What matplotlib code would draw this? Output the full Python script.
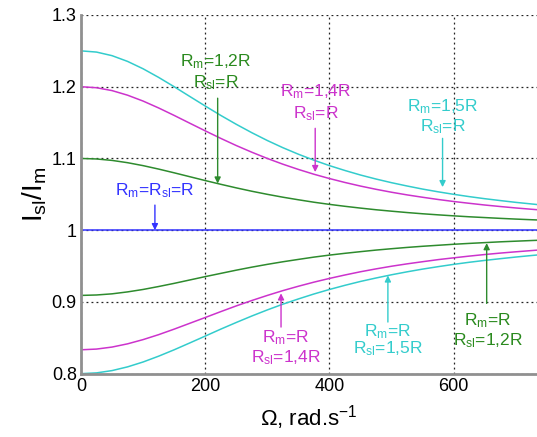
import matplotlib
matplotlib.use("Agg")
import matplotlib.pyplot as plt

plt.rcParams['font.family'] = ['Liberation Sans', 'DejaVu Sans']
plt.rcParams['mathtext.default'] = 'regular'

omega = [0, 25, 50, 75, 100, 125, 150, 175, 200, 225, 250, 275, 300, 325, 350, 375,
         400, 425, 450, 475, 500, 525, 550, 575, 600, 625, 650, 675, 700, 725, 734]

up_cyan = [1.2500, 1.2483, 1.2433, 1.2353, 1.2250, 1.2130, 1.2000, 1.1865, 1.1731,
           1.1600, 1.1476, 1.1359, 1.1250, 1.1150, 1.1059, 1.0976, 1.0900, 1.0832,
           1.0769, 1.0713, 1.0662, 1.0616, 1.0573, 1.0535, 1.0500, 1.0468, 1.0439,
           1.0413, 1.0388, 1.0366, 1.0358]
up_magenta = [1.2000, 1.1986, 1.1946, 1.1882, 1.1800, 1.1704, 1.1600, 1.1492, 1.1385,
              1.1280, 1.1180, 1.1087, 1.1000, 1.0920, 1.0847, 1.0780, 1.0720, 1.0665,
              1.0615, 1.0570, 1.0529, 1.0492, 1.0459, 1.0428, 1.0400, 1.0375, 1.0351,
              1.0330, 1.0310, 1.0292, 1.0286]
up_green = [1.1000, 1.0993, 1.0973, 1.0941, 1.0900, 1.0852, 1.0800, 1.0746, 1.0692,
            1.0640, 1.0590, 1.0543, 1.0500, 1.0460, 1.0424, 1.0390, 1.0360, 1.0333,
            1.0308, 1.0285, 1.0265, 1.0246, 1.0229, 1.0214, 1.0200, 1.0187, 1.0176,
            1.0165, 1.0155, 1.0146, 1.0143]
ref_blue = [1.0] * len(omega)
lo_green = [0.9091, 0.9097, 0.9113, 0.9140, 0.9174, 0.9215, 0.9259, 0.9306, 0.9353,
            0.9398, 0.9443, 0.9485, 0.9524, 0.9560, 0.9593, 0.9625, 0.9653, 0.9678,
            0.9701, 0.9723, 0.9742, 0.9760, 0.9776, 0.9790, 0.9804, 0.9816, 0.9827,
            0.9838, 0.9847, 0.9856, 0.9859]
lo_magenta = [0.8333, 0.8343, 0.8371, 0.8416, 0.8475, 0.8544, 0.8621, 0.8702, 0.8783,
              0.8865, 0.8945, 0.9020, 0.9091, 0.9158, 0.9219, 0.9276, 0.9328, 0.9376,
              0.9421, 0.9461, 0.9498, 0.9531, 0.9561, 0.9590, 0.9615, 0.9639, 0.9661,
              0.9681, 0.9699, 0.9716, 0.9722]
lo_cyan = [0.8000, 0.8011, 0.8043, 0.8095, 0.8163, 0.8244, 0.8333, 0.8428, 0.8524,
           0.8621, 0.8714, 0.8804, 0.8889, 0.8969, 0.9042, 0.9111, 0.9174, 0.9232,
           0.9286, 0.9334, 0.9379, 0.9420, 0.9458, 0.9492, 0.9524, 0.9553, 0.9579,
           0.9603, 0.9626, 0.9647, 0.9654]

x_ticks = [0, 200, 400, 600]
y_ticks = [0.8, 0.9, 1.0, 1.1, 1.2, 1.3]
y_ticklabels = ['0.8', '0.9', '1', '1.1', '1.2', '1.3']

CYAN = '#33cccc'
MAGENTA = '#cc33cc'
GREEN = '#2e8b2e'
GREEN_T = '#2a8a1e'
BLUE = '#3333ff'

fig = plt.figure(figsize=(5.37, 4.37), dpi=100)
ax = fig.add_axes([0.1508, 0.1449, 0.8492, 0.8208])

ax.plot(omega, up_cyan, color=CYAN, lw=1.1)
ax.plot(omega, up_magenta, color=MAGENTA, lw=1.1)
ax.plot(omega, up_green, color=GREEN, lw=1.1)
ax.plot(omega, ref_blue, color=BLUE, lw=1.1)
ax.plot(omega, lo_green, color=GREEN, lw=1.1)
ax.plot(omega, lo_magenta, color=MAGENTA, lw=1.1)
ax.plot(omega, lo_cyan, color=CYAN, lw=1.1)

ax.set_xlim(0, 734)
ax.set_ylim(0.8, 1.3)
ax.set_xticks(x_ticks)
ax.set_yticks(y_ticks)
ax.set_yticklabels(y_ticklabels)
ax.tick_params(length=0, labelsize=13, pad=3)
ax.grid(True, color='#222222', linestyle=(0, (1.5, 2.5)), lw=0.9)
ax.set_axisbelow(True)
for s in ['top', 'right']:
    ax.spines[s].set_visible(False)
for s in ['left', 'bottom']:
    ax.spines[s].set_color('#909090')
    ax.spines[s].set_linewidth(2)

ax.set_ylabel('$I_{sl}/I_{m}$', fontsize=20, labelpad=2)
ax.set_xlabel('Ω, rad.s$^{-1}$', fontsize=16, labelpad=6)

FS = 12.5

def label(x, y1, y2, t1, t2, c):
    ax.text(x, y1, t1, color=c, fontsize=FS, ha='center', va='baseline')
    if t2:
        ax.text(x, y2, t2, color=c, fontsize=FS, ha='center', va='baseline')

def arrow(x, y0, y1, c):
    ax.annotate('', xy=(x, y1), xytext=(x, y0),
                arrowprops=dict(arrowstyle='-|>', color=c, lw=1, mutation_scale=9,
                                shrinkA=0, shrinkB=0))

label(217, 1.2282, 1.1990, '$R_m$=1,2R', '$R_{sl}$=R', GREEN_T)
arrow(220, 1.184, 1.065, GREEN)

label(378, 1.186, 1.156, '$R_m$=1,4R', '$R_{sl}$=R', MAGENTA)
arrow(377, 1.142, 1.081, MAGENTA)

label(582, 1.166, 1.138, '$R_m$=1,5R', '$R_{sl}$=R', CYAN)
arrow(582, 1.128, 1.060, CYAN)

label(119, 1.049, None, '$R_m$=$R_{sl}$=R', None, BLUE)
arrow(119, 1.035, 1.0, BLUE)

label(330, 0.8444, 0.8156, '$R_m$=R', '$R_{sl}$=1,4R', MAGENTA)
arrow(322, 0.865, 0.912, MAGENTA)

label(494, 0.8522, 0.8282, '$R_m$=R', '$R_{sl}$=1,5R', CYAN)
arrow(494, 0.872, 0.937, CYAN)

label(655, 0.8676, 0.8397, '$R_m$=R', '$R_{sl}$=1,2R', GREEN_T)
arrow(653, 0.898, 0.982, GREEN)

fig.savefig('out.png', dpi=100)
